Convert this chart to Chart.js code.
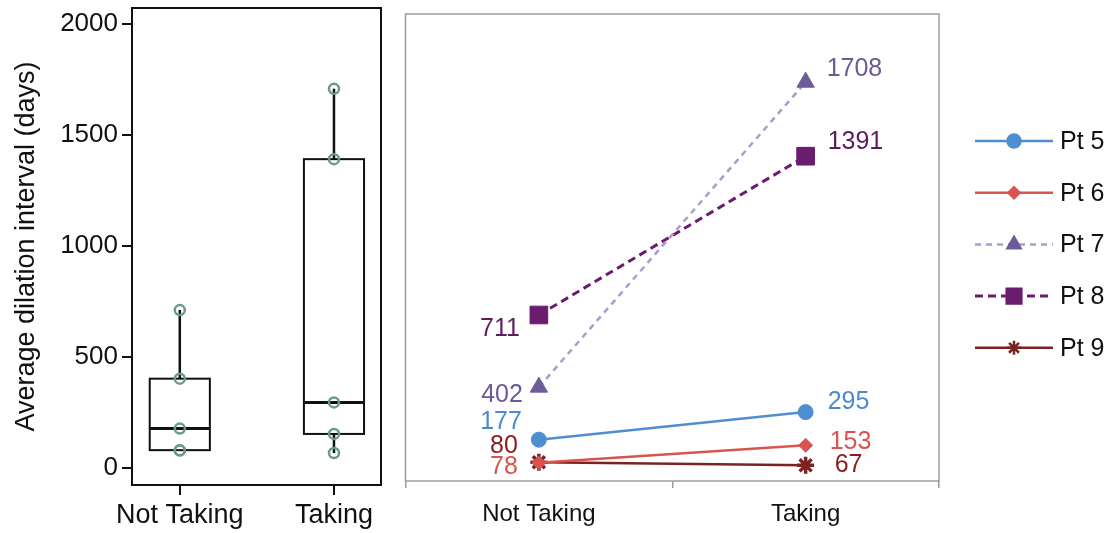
<!DOCTYPE html>
<html>
<head>
<meta charset="utf-8">
<script src="https://cdn.jsdelivr.net/npm/chart.js@4.4.0/dist/chart.umd.min.js"></script>
<style>
  body { margin: 0; background: #fff; width: 1118px; height: 533px; overflow: hidden; position: relative; }
  canvas { position: absolute; top: 0; }
  #boxChart { left: 0; }
  #lineChart { left: 392px; }
</style>
</head>
<body>
<canvas id="boxChart" width="392" height="533"></canvas>
<canvas id="lineChart" width="726" height="533"></canvas>
<script>
// data
const groups = ['Not Taking', 'Taking'];
const patients = ['Pt 5', 'Pt 6', 'Pt 7', 'Pt 8', 'Pt 9'];
const notTaking = [177, 78, 402, 711, 80];
const taking = [295, 153, 1708, 1391, 67];
const leftTicks = [0, 500, 1000, 1500, 2000];
const yTitle = 'Average dilation interval (days)';

// styles per patient
const lineColors = ['#4f8fd0', '#d9534f', '#a99ecb', '#6a1d6e', '#7b2323'];
const markerColors = ['#4f8fd0', '#d9534f', '#6e5b9a', '#6a1d6e', '#7b2323'];
const labelColors = ['#4a8bd0', '#d9534f', '#6b5a96', '#5e1b5e', '#8b1c1c'];
const pointStyles = ['circle', 'rectRot', 'triangle', 'rect', 'star'];
const pointSizes = [7.5, 7, 10, 12.5, 8.5];
const legendSizes = [6.5, 5.5, 7.5, 10, 7];
const dashes = [[], [], [6, 5], [8, 5], []];
const widths = [2.5, 2.5, 2.5, 3, 2.5];
// label nudges [dx, dy, align] for Not Taking / Taking
const nudges = [
  [[-17, -18, 'right'], [22, -10, 'left']],
  [[-21, 4, 'right'], [24, -3, 'left']],
  [[-16, 8, 'right'], [21, -13, 'left']],
  [[-19, 14, 'right'], [22, -14, 'left']],
  [[-21, -16, 'right'], [29, 0, 'left']]
];

const FONT = "'Liberation Sans', Arial, Helvetica, sans-serif";
Chart.defaults.font.family = FONT;
Chart.defaults.color = '#111';

function quantiles(vals) {
  let s = vals.slice().sort((a, b) => a - b);
  let med = arr => {
    let m = Math.floor(arr.length / 2);
    return arr.length % 2 ? arr[m] : (arr[m - 1] + arr[m]) / 2;
  };
  let h = Math.ceil(s.length / 2);
  let q1 = med(s.slice(0, h));
  let q3 = med(s.slice(s.length - h));
  let iqr = q3 - q1;
  let lo = s.filter(v => v >= q1 - 1.5 * iqr)[0];
  let hi = s.filter(v => v <= q3 + 1.5 * iqr).pop();
  return { q1: q1, med: med(s), q3: q3, lo: lo, hi: hi };
}

// ---------- left: box plot ----------
const boxGroups = [notTaking, taking];
let pts = [];
boxGroups.forEach((g, gi) => g.forEach(v => pts.push({ x: gi, y: v })));

const boxPlugin = {
  id: 'boxes',
  beforeDatasetsDraw(chart) {
    const ctx = chart.ctx, xs = chart.scales.x, ys = chart.scales.y;
    ctx.save();
    ctx.strokeStyle = '#111';
    boxGroups.forEach((g, gi) => {
      let q = quantiles(g);
      let cx = xs.getPixelForValue(gi);
      let x0 = xs.getPixelForValue(gi - 0.195), x1 = xs.getPixelForValue(gi + 0.195);
      ctx.lineWidth = 2.5;
      ctx.beginPath();
      ctx.moveTo(cx, ys.getPixelForValue(q.hi)); ctx.lineTo(cx, ys.getPixelForValue(q.q3));
      ctx.moveTo(cx, ys.getPixelForValue(q.q1)); ctx.lineTo(cx, ys.getPixelForValue(q.lo));
      ctx.stroke();
      ctx.lineWidth = 2;
      ctx.strokeRect(x0, ys.getPixelForValue(q.q3), x1 - x0, ys.getPixelForValue(q.q1) - ys.getPixelForValue(q.q3));
      ctx.lineWidth = 3;
      ctx.beginPath();
      ctx.moveTo(x0, ys.getPixelForValue(q.med)); ctx.lineTo(x1, ys.getPixelForValue(q.med));
      ctx.stroke();
    });
    ctx.restore();
  },
  afterDraw(chart) {
    const a = chart.chartArea, ctx = chart.ctx;
    ctx.save();
    ctx.strokeStyle = '#111';
    ctx.lineWidth = 2;
    ctx.strokeRect(a.left, a.top, a.right - a.left, a.bottom - a.top);
    ctx.restore();
  }
};

new Chart(document.getElementById('boxChart'), {
  type: 'scatter',
  data: {
    datasets: [{
      data: pts,
      pointRadius: 5,
      pointBorderWidth: 2.5,
      pointBorderColor: '#6a9a8a',
      pointBackgroundColor: 'rgba(0,0,0,0)'
    }]
  },
  options: {
    responsive: false,
    animation: false,
    layout: { padding: { top: 8, right: 11 } },
    plugins: { legend: { display: false }, tooltip: { enabled: false } },
    scales: {
      x: {
        type: 'linear', min: -0.31, max: 1.305,
        afterBuildTicks: s => { s.ticks = groups.map((g, i) => ({ value: i })); },
        afterFit: s => { s.height = 48; s.paddingLeft = 0; s.paddingRight = 0; },
        ticks: { callback: v => groups[v], font: { size: 27 }, padding: 4, maxRotation: 0 },
        grid: { drawOnChartArea: false, tickLength: 10, color: '#111', lineWidth: 2 },
        border: { display: false }
      },
      y: {
        min: -77, max: 2072,
        afterBuildTicks: s => { s.ticks = leftTicks.map(v => ({ value: v })); },
        afterFit: s => { s.width = 132; s.paddingTop = 0; s.paddingBottom = 0; },
        ticks: { font: { size: 26 }, padding: 4, callback: v => String(v) },
        grid: { drawOnChartArea: false, tickLength: 10, color: '#111', lineWidth: 2 },
        border: { display: false },
        title: { display: true, text: yTitle, font: { size: 27 }, padding: { top: 10, bottom: 0 } }
      }
    }
  },
  plugins: [boxPlugin]
});

// ---------- right: paired lines ----------
const rightPlugin = {
  id: 'paired',
  afterDraw(chart) {
    const ctx = chart.ctx, a = chart.chartArea;
    ctx.save();
    // frame
    ctx.strokeStyle = '#9c9c9c';
    ctx.lineWidth = 1.5;
    ctx.strokeRect(a.left, a.top, a.right - a.left, a.bottom - a.top);
    // value labels
    ctx.font = '25px ' + FONT;
    ctx.textBaseline = 'middle';
    chart.data.datasets.forEach((ds, i) => {
      const meta = chart.getDatasetMeta(i);
      meta.data.forEach((p, j) => {
        let n = nudges[i][j];
        ctx.fillStyle = labelColors[i];
        ctx.textAlign = n[2];
        ctx.fillText(String(ds.data[j]), p.x + n[0], p.y + n[1]);
      });
    });
    // legend
    const lx0 = 583, lx1 = 661, ly0 = 141, step = 51.7;
    chart.data.datasets.forEach((ds, i) => {
      let y = ly0 + i * step;
      ctx.strokeStyle = lineColors[i];
      ctx.lineWidth = widths[i];
      ctx.setLineDash(dashes[i]);
      ctx.beginPath();
      ctx.moveTo(lx0, y); ctx.lineTo(lx1, y);
      ctx.stroke();
      ctx.setLineDash([]);
      ctx.fillStyle = markerColors[i];
      ctx.strokeStyle = markerColors[i];
      Chart.helpers.drawPoint(ctx, {
        pointStyle: pointStyles[i], radius: legendSizes[i], rotation: 0,
        borderWidth: pointStyles[i] === 'star' ? 3 : 1
      }, (lx0 + lx1) / 2, y);
      ctx.fillStyle = '#111';
      ctx.textAlign = 'left';
      ctx.font = '25px ' + FONT;
      ctx.fillText(ds.label, 668, y + 1);
    });
    ctx.restore();
  }
};

new Chart(document.getElementById('lineChart'), {
  type: 'line',
  data: {
    labels: groups,
    datasets: patients.map((p, i) => ({
      label: p,
      data: [notTaking[i], taking[i]],
      borderColor: lineColors[i],
      borderWidth: widths[i],
      borderDash: dashes[i],
      pointStyle: pointStyles[i],
      pointRadius: pointSizes[i],
      pointBackgroundColor: markerColors[i],
      pointBorderColor: markerColors[i],
      pointBorderWidth: pointStyles[i] === 'star' ? 3.5 : 1,
      fill: false,
      tension: 0
    }))
  },
  options: {
    responsive: false,
    animation: false,
    layout: { padding: { left: 7, top: 14, right: 179, bottom: 0 } },
    plugins: { legend: { display: false }, tooltip: { enabled: false } },
    scales: {
      x: {
        offset: true,
        afterFit: s => { s.height = 52; s.paddingLeft = 0; s.paddingRight = 0; },
        ticks: { font: { size: 24 }, padding: 12, maxRotation: 0 },
        grid: { offset: true, drawOnChartArea: false, tickLength: 7, color: '#9c9c9c', lineWidth: 1.5 },
        border: { display: false }
      },
      y: { display: false, min: 0, max: 2000 }
    }
  },
  plugins: [rightPlugin]
});
</script>
</body>
</html>
